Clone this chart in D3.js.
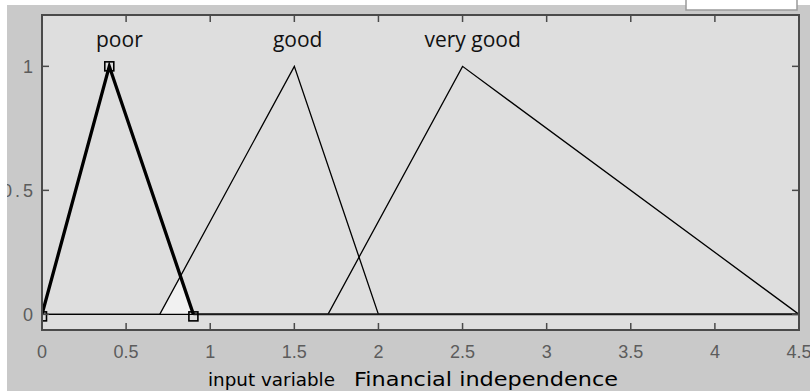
<!DOCTYPE html>
<html><head><meta charset="utf-8">
<script src="https://cdn.jsdelivr.net/npm/d3@7/dist/d3.min.js"></script>
<style>html,body{margin:0;padding:0;background:#fff;}svg{display:block;}</style>
</head><body>
<script>
// ---- data ----
const mfNames = ["poor", "good", "very good"];
const mfParams = [[0, 0.4, 0.9], [0.7, 1.5, 2.0], [1.7, 2.5, 4.5]]; // triangular a, b, c
const selectedMF = 0;
const labelX = [0.46, 1.52, 2.56];
const xTicks = [0, 0.5, 1, 1.5, 2, 2.5, 3, 3.5, 4, 4.5];
const yTicks = [0, 0.5, 1];
const xRange = [0, 4.5];
const yLimits = [-0.063, 1.207];
const xTitle1 = "input variable";
const xTitle2 = "Financial independence";

const W = 810, H = 391;
const svg = d3.select("body").append("svg").attr("width", W).attr("height", H);
const L = 42, R = 799, T = 15, B = 330;
const x = d3.scaleLinear().domain(xRange).range([L, R]);
const y = d3.scaleLinear().domain(yLimits).range([B, T]);

// outer background
svg.append("rect").attr("x", 0).attr("y", 0).attr("width", W).attr("height", H).attr("fill", "#c9c9c9");
// plot background
svg.append("rect").attr("x", L).attr("y", T).attr("width", R - L).attr("height", B - T).attr("fill", "#dedede");

svg.append("clipPath").attr("id", "clip").append("rect")
  .attr("x", L).attr("y", T).attr("width", R - L).attr("height", B - T);
const g = svg.append("g").attr("clip-path", "url(#clip)");

function tri(p, v) {
  const [a, b, c] = p;
  if (v <= a || v >= c) return 0;
  return v <= b ? (v - a) / (b - a) : (c - v) / (c - b);
}

// light region under min(poor, good)
const p0 = mfParams[0], p1 = mfParams[1];
const xi = (p0[2] / (p0[2] - p0[1]) + p1[0] / (p1[1] - p1[0])) / (1 / (p0[2] - p0[1]) + 1 / (p1[1] - p1[0]));
const fillPts = [[p1[0], 0], [xi, tri(p1, xi)], [p0[2], 0]];
g.append("path")
  .attr("d", d3.line().x(d => x(d[0])).y(d => y(d[1]))(fillPts) + "Z")
  .attr("fill", "#f1f1f1");

// membership function polylines (full range)
const line = d3.line().x(d => x(d[0])).y(d => y(d[1]));
mfParams.forEach((p, i) => {
  if (i === selectedMF) return;
  const pts = [[xRange[0], 0], [p[0], 0], [p[1], 1], [p[2], 0], [xRange[1], 0]];
  g.append("path").attr("d", line(pts)).attr("fill", "none")
    .attr("stroke", "#000").attr("stroke-width", 1.3).attr("stroke-linejoin", "miter");
});
{
  const p = mfParams[selectedMF];
  g.append("path").attr("d", line([[p[2], 0], [xRange[1], 0]])).attr("fill", "none")
    .attr("stroke", "#1a1a1a").attr("stroke-width", 2);
  g.append("path").attr("d", line([[p[0], 0], [p[1], 1], [p[2], 0]])).attr("fill", "none")
    .attr("stroke", "#000").attr("stroke-width", 3.3).attr("stroke-linejoin", "miter");
  g.selectAll("rect.mk").data([[p[0], 0], [p[1], 1], [p[2], 0]]).enter().append("rect")
    .attr("x", d => x(d[0]) - 4.5).attr("y", d => y(d[1]) - 4.5 + (d[1] === 0 ? 2 : 0))
    .attr("width", 9).attr("height", 9)
    .attr("fill", "none").attr("stroke", "#000").attr("stroke-width", 1.6);
}

// MF labels
svg.selectAll("text.mf").data(mfNames).enter().append("text")
  .attr("x", (d, i) => x(labelX[i])).attr("y", 47)
  .attr("text-anchor", "middle")
  .attr("font-family", "Open Sans").attr("font-size", 21)
  .attr("fill", "#111").text(d => d);

// frame
const axisCol = "#4a4a4a";
svg.append("rect").attr("x", L).attr("y", T).attr("width", R - L).attr("height", B - T)
  .attr("fill", "none").attr("stroke", axisCol).attr("stroke-width", 2);

// ticks
const tl = 7;
xTicks.forEach(t => {
  const px = x(t);
  svg.append("line").attr("x1", px).attr("x2", px).attr("y1", B).attr("y2", B - tl).attr("stroke", axisCol).attr("stroke-width", 1.5);
  svg.append("line").attr("x1", px).attr("x2", px).attr("y1", T).attr("y2", T + tl).attr("stroke", axisCol).attr("stroke-width", 1.5);
});
yTicks.forEach(t => {
  const py = y(t);
  svg.append("line").attr("x1", L).attr("x2", L + tl).attr("y1", py).attr("y2", py).attr("stroke", axisCol).attr("stroke-width", 1.5);
  svg.append("line").attr("x1", R).attr("x2", R - tl).attr("y1", py).attr("y2", py).attr("stroke", axisCol).attr("stroke-width", 1.5);
});

// tick labels
const tickFont = "Liberation Sans";
svg.selectAll("text.xt").data(xTicks).enter().append("text")
  .attr("x", d => x(d)).attr("y", 358).attr("text-anchor", "middle")
  .attr("font-family", tickFont).attr("font-size", 18).attr("fill", "#5c5c5c")
  .text(d => d3.format("~g")(d));
svg.selectAll("text.yt").data(yTicks).enter().append("text")
  .attr("x", 36).attr("y", d => y(d) + 6.5).attr("text-anchor", "end")
  .attr("font-family", tickFont).attr("font-size", 18).attr("fill", "#5c5c5c")
  .attr("letter-spacing", 3)
  .text(d => d3.format("~g")(d));

// axis title
svg.append("text").attr("x", 208).attr("y", 386)
  .attr("font-family", "DejaVu Sans").attr("font-size", 18).attr("fill", "#000")
  .attr("textLength", 127).attr("lengthAdjust", "spacingAndGlyphs").text(xTitle1);
svg.append("text").attr("x", 354).attr("y", 386)
  .attr("font-family", "DejaVu Sans").attr("font-size", 19).attr("fill", "#000")
  .attr("textLength", 264).attr("lengthAdjust", "spacingAndGlyphs").text(xTitle2);

// white margins and widget box at top right
svg.append("rect").attr("x", 0).attr("y", 0).attr("width", W).attr("height", 5).attr("fill", "#fff");
svg.append("rect").attr("x", 0).attr("y", 0).attr("width", 7).attr("height", H).attr("fill", "#fff");
svg.append("rect").attr("x", 686).attr("y", -2).attr("width", 111).attr("height", 12)
  .attr("fill", "#fff").attr("stroke", "#9a9a9a").attr("stroke-width", 1.5);
</script>
</body></html>
